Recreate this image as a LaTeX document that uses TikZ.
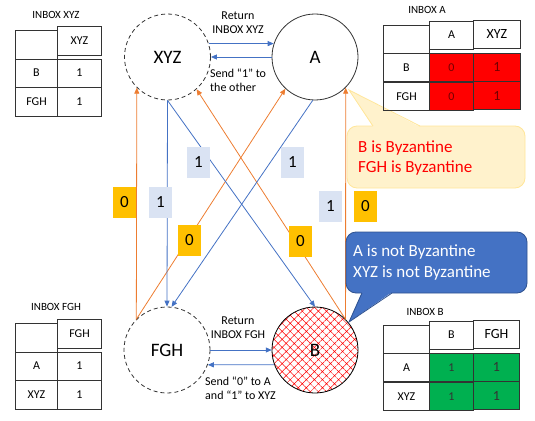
\documentclass[tikz,border=0pt]{standalone}
\usepackage{fontspec}
\setmainfont{Carlito}
\usetikzlibrary{arrows.meta,patterns.meta,matrix}

\definecolor{msgblue}{HTML}{4472C4}
\definecolor{msgorange}{HTML}{ED7D31}
\definecolor{tagzero}{HTML}{FFC000}
\definecolor{tagone}{HTML}{DAE3F3}
\definecolor{notefill}{HTML}{FFF2CC}
\definecolor{noteline}{HTML}{FFE699}
\definecolor{calloutline}{HTML}{2F528F}
\definecolor{cellred}{HTML}{FF0000}
\definecolor{cellgreen}{HTML}{00B050}

\begin{document}
\begin{tikzpicture}[x=1pt,y=-1pt,
    proc/.style={circle,draw=black!80,line width=0.8pt,minimum size=86pt,inner sep=0pt,
      font=\fontsize{19}{19}\selectfont},
    faulty/.style={proc,dash pattern=on 4pt off 3pt},
    traitor/.style={proc,draw=black,
      pattern={Hatch[angle=45,distance=5.7pt,line width=0.5pt]},pattern color=red},
    bluemsg/.style={msgblue,line width=0.8pt,-{Triangle[length=6pt,width=5pt]}},
    orangemsg/.style={msgorange,line width=0.8pt,-{Triangle[length=6pt,width=5pt]}},
    zerotag/.style={fill=tagzero,minimum width=23pt,minimum height=31pt,inner sep=0pt,
      font=\fontsize{17}{17}\selectfont},
    onetag/.style={zerotag,fill=tagone},
    remark/.style={font=\fontsize{12}{14}\selectfont,align=center,inner sep=0pt},
    inboxtitle/.style={font=\fontsize{11}{11}\selectfont,inner sep=0pt},
    inbox/.style={matrix of nodes,nodes in empty cells,inner sep=0pt,anchor=north west,
      column sep=-0.6pt,row sep=-0.6pt,
      nodes={draw=black!80,line width=0.6pt,minimum height=28.5pt,inner sep=0pt,
        font=\fontsize{12}{12}\selectfont}},
    redcell/.style={fill=cellred,text=red!45!black},
    greencell/.style={fill=cellgreen,text=black!80}
  ]
  \useasboundingbox (0,0) rectangle (535,420);

  % the four generals
  \node[faulty] (xyz) at (167.5,57) {XYZ};
  \node[proc] (a) at (315,57) {A};
  \node[faulty] (fgh) at (167,350) {FGH};
  \node[traitor] (b) at (315,350) {B};

  % exchanges on top and bottom
  \draw[bluemsg] (xyz.18) -- (a.162);
  \draw[bluemsg] (a.west) -- (xyz.east);
  \node[remark] (rettop) at (238,23) {Return\\INBOX XYZ};
  \node[remark,align=left,anchor=west] (sendtop) at (210,80) {Send “1” to\\the other};
  \draw[bluemsg] (fgh.east) -- (b.west);
  \draw[bluemsg] (b.-160) -- (fgh.-20);
  \node[remark] (retbot) at (238,328) {Return\\INBOX FGH};
  \node[remark,align=left,anchor=west] (sendbot) at (205,388) {Send “0” to A\\and “1” to XYZ};

  % messages across
  \draw[orangemsg] (fgh.135) -- (xyz.-135);
  \draw[orangemsg] (fgh.135) -- (a.-133);
  \draw[orangemsg] (b.45) -- (xyz.-48);
  \draw[orangemsg] (b.45) -- (a.-45);
  \draw[bluemsg] (xyz.south) -- (fgh.north);
  \draw[bluemsg] (xyz.south) -- (b.north);
  \draw[bluemsg] (a.-93) -- (fgh.84);

  % values carried
  \node[zerotag] (v1) at (124.5,202) {0};
  \node[onetag] (v2) at (160.5,202) {1};
  \node[onetag] (v3) at (198.5,162) {1};
  \node[onetag] (v4) at (292.5,162) {1};
  \node[zerotag] (v5) at (189.5,240) {0};
  \node[zerotag] (v6) at (300.5,241) {0};
  \node[onetag] (v7) at (330.5,206) {1};
  \node[zerotag] (v8) at (365.5,206) {0};

  % callouts
  \filldraw[fill=notefill,draw=noteline,line width=0.8pt,rounded corners=10pt] (347,126) rectangle (525,188);
  \fill[notefill] (373,127) -- (349,90) -- (420,127) -- cycle;
  \draw[noteline,line width=0.8pt] (373,126) -- (349,90) -- (420,126);
  \node[anchor=west,align=left,text=red,inner sep=0pt,font=\fontsize{17}{20}\selectfont]
    (byzyes) at (358,158) {B is Byzantine\\FGH is Byzantine};
  \filldraw[fill=msgblue,draw=calloutline,line width=0.8pt,rounded corners=10pt] (346,232) rectangle (527,293);
  \fill[msgblue] (362,292) -- (349,322) -- (392,292) -- cycle;
  \draw[calloutline,line width=0.8pt] (362,293) -- (349,322) -- (392,293);
  \node[anchor=west,align=left,text=white,inner sep=0pt,font=\fontsize{17}{21}\selectfont]
    (byzno) at (353,262.5) {A is not Byzantine\\XYZ is not Byzantine};

  % inboxes
  \node[inboxtitle] (txyz) at (56,15) {INBOX XYZ};
  \matrix[inbox,column 1/.style={nodes={minimum width=42pt}},column 2/.style={nodes={minimum width=44pt}}]
    (ixyz) at (15,26) {
      & XYZ \\
    B & 1 \\
    FGH & 1 \\
  };
  \node[inboxtitle] (tfgh) at (56,307) {INBOX FGH};
  \matrix[inbox,column 1/.style={nodes={minimum width=42pt}},column 2/.style={nodes={minimum width=44pt}}]
    (ifgh) at (15,319) {
      & FGH \\
    A & 1 \\
    XYZ & 1 \\
  };
  \node[inboxtitle] (ta) at (427,10) {INBOX A};
  \matrix[inbox,nodes={minimum height=28pt},column 1/.style={nodes={minimum width=46pt}},
      column 2/.style={nodes={minimum width=44pt}},
      column 3/.style={nodes={minimum width=47pt,font=\fontsize{14}{14}\selectfont}}]
    (ia) at (383,20) {
      & A & XYZ \\
    B & |[redcell]| 0 & |[redcell]| 1 \\
    FGH & |[redcell]| 0 & |[redcell]| 1 \\
  };
  \node[inboxtitle] (tb) at (425,312) {INBOX B};
  \matrix[inbox,nodes={minimum height=28pt},column 1/.style={nodes={minimum width=46pt}},
      column 2/.style={nodes={minimum width=44pt}},
      column 3/.style={nodes={minimum width=46pt,font=\fontsize{14}{14}\selectfont}}]
    (ib) at (383,320) {
      & B & FGH \\
    A & |[greencell]| 1 & |[greencell]| 1 \\
    XYZ & |[greencell]| 1 & |[greencell]| 1 \\
  };
\end{tikzpicture}
\end{document}
